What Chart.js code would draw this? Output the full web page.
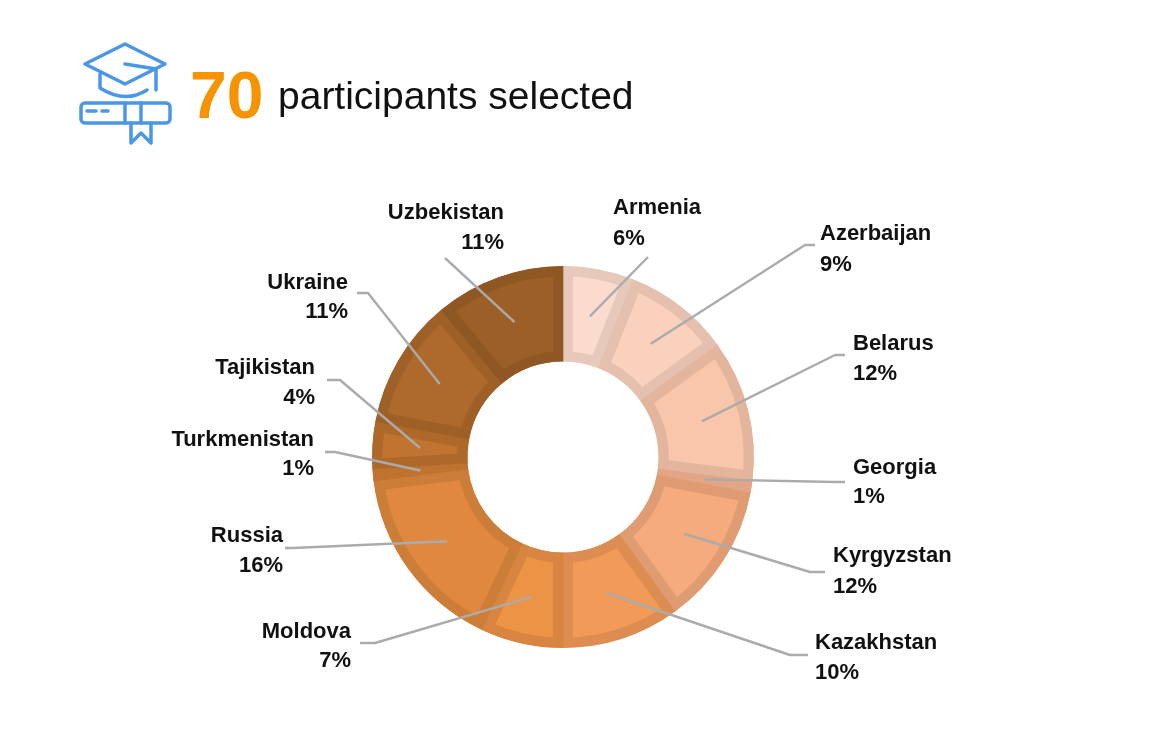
<!DOCTYPE html>
<html>
<head>
<meta charset="utf-8">
<title>70 participants selected</title>
<script src="https://cdn.jsdelivr.net/npm/chart.js@4/dist/chart.umd.min.js"></script>
<style>
  html,body{margin:0;padding:0;background:#fff;overflow:hidden}
  #wrap{position:relative;width:1170px;height:730px;font-family:"Liberation Sans",Arial,sans-serif}
  #chart{position:absolute;left:0;top:0}
  #icon{position:absolute;left:0;top:0}
  #num{position:absolute;left:190px;top:58px;font-size:66px;line-height:74px;font-weight:bold;color:#F59300}
  #txt{position:absolute;left:278px;top:73px;font-size:39px;line-height:46px;color:#111}
</style>
</head>
<body>
<div id="wrap">
  <canvas id="chart" width="1170" height="730"></canvas>
  <svg id="icon" width="200" height="160" fill="none" stroke="#4A97E6" stroke-width="3.5" stroke-linejoin="round" stroke-linecap="round">
    <path d="M125 44 L165 64 L125 84 L85 64 Z"/>
    <path d="M100 74 V88 Q125 104 147 90"/>
    <path d="M125 64 L156 69 V90"/>
    <rect x="81" y="103" width="89" height="20" rx="4"/>
    <path d="M87 111 H96 M102 111 H108"/>
    <path d="M125 103 V123 M141 103 V123"/>
    <path d="M131 123 V143 L141 133 L151 143 V123"/>
  </svg>
  <div id="num">70</div>
  <div id="txt">participants selected</div>
</div>
<script>
(function(){
  const countries = ['Armenia','Azerbaijan','Belarus','Georgia','Kyrgyzstan','Kazakhstan','Moldova','Russia','Turkmenistan','Tajikistan','Ukraine','Uzbekistan'];
  const shares = [6,9,12,1,12,10,7,16,1,4,11,11];
  const fills = ['#FADBCE','#F9D1BD','#F7C6AB','#EDB08F','#F6AB7E','#F29A58','#EC9345','#E0883F','#C9772F','#C0742F','#AE692C','#9C5F28'];
  const edges = ['#E6C9BA','#E5C0AE','#E3B59C','#E2A585','#DF9C73','#DD8D52','#D78540','#CC7D38','#C0722F','#AE682A','#9F6027','#8E5723'];

  // leader elbows and label anchors, one row per country: [elbowX, elbowY, endX, textX, nameY, pctY]
  const callouts = [
    [648,257,648,613,208,239],
    [805,245,815,820,234,265],
    [835,355,845,853,344,374],
    [835,482,845,853,468,497],
    [810,572,825,833,556,587],
    [790,655,808,815,643,673],
    [375,643,360,351,632,661],
    [293,548,285,283,536,566],
    [335,452,325,314,440,469],
    [340,380,327,315,368,398],
    [368,293,357,348,283,312],
    [445,258,445,504,213,243]
  ];
  const rightAligned = i => i >= 6;

  const leaders = {
    id:'leaders',
    afterDatasetsDraw(chart){
      const ctx = chart.ctx;
      const arcs = chart.getDatasetMeta(0).data;
      ctx.save();
      ctx.strokeStyle = '#ABABAB';
      ctx.lineWidth = 2.4;
      ctx.lineJoin = 'round';
      arcs.forEach((arc,i)=>{
        const p = arc.getCenterPoint(), c = callouts[i];
        ctx.beginPath();
        ctx.moveTo(p.x,p.y);
        ctx.lineTo(c[0],c[1]);
        ctx.lineTo(c[2],c[1]);
        ctx.stroke();
      });
      ctx.fillStyle = '#111';
      ctx.font = 'bold 22px "Liberation Sans", Arial, sans-serif';
      ctx.textBaseline = 'middle';
      countries.forEach((name,i)=>{
        const c = callouts[i];
        ctx.textAlign = rightAligned(i) ? 'right' : 'left';
        ctx.fillText(name,c[3],c[4]);
        ctx.fillText(shares[i]+'%',c[3],c[5]);
      });
      ctx.restore();
    }
  };

  new Chart(document.getElementById('chart').getContext('2d'),{
    type:'doughnut',
    data:{ labels:countries, datasets:[{
      data:shares, backgroundColor:fills, borderColor:edges,
      borderWidth:10, borderAlign:'inner', hoverBorderWidth:0
    }]},
    options:{
      responsive:false, animation:false, cutout:'50%',
      layout:{padding:{left:372,right:416,top:266,bottom:82}},
      plugins:{legend:{display:false},tooltip:{enabled:false},title:{display:false}}
    },
    plugins:[leaders]
  });
})();
</script>
</body>
</html>
